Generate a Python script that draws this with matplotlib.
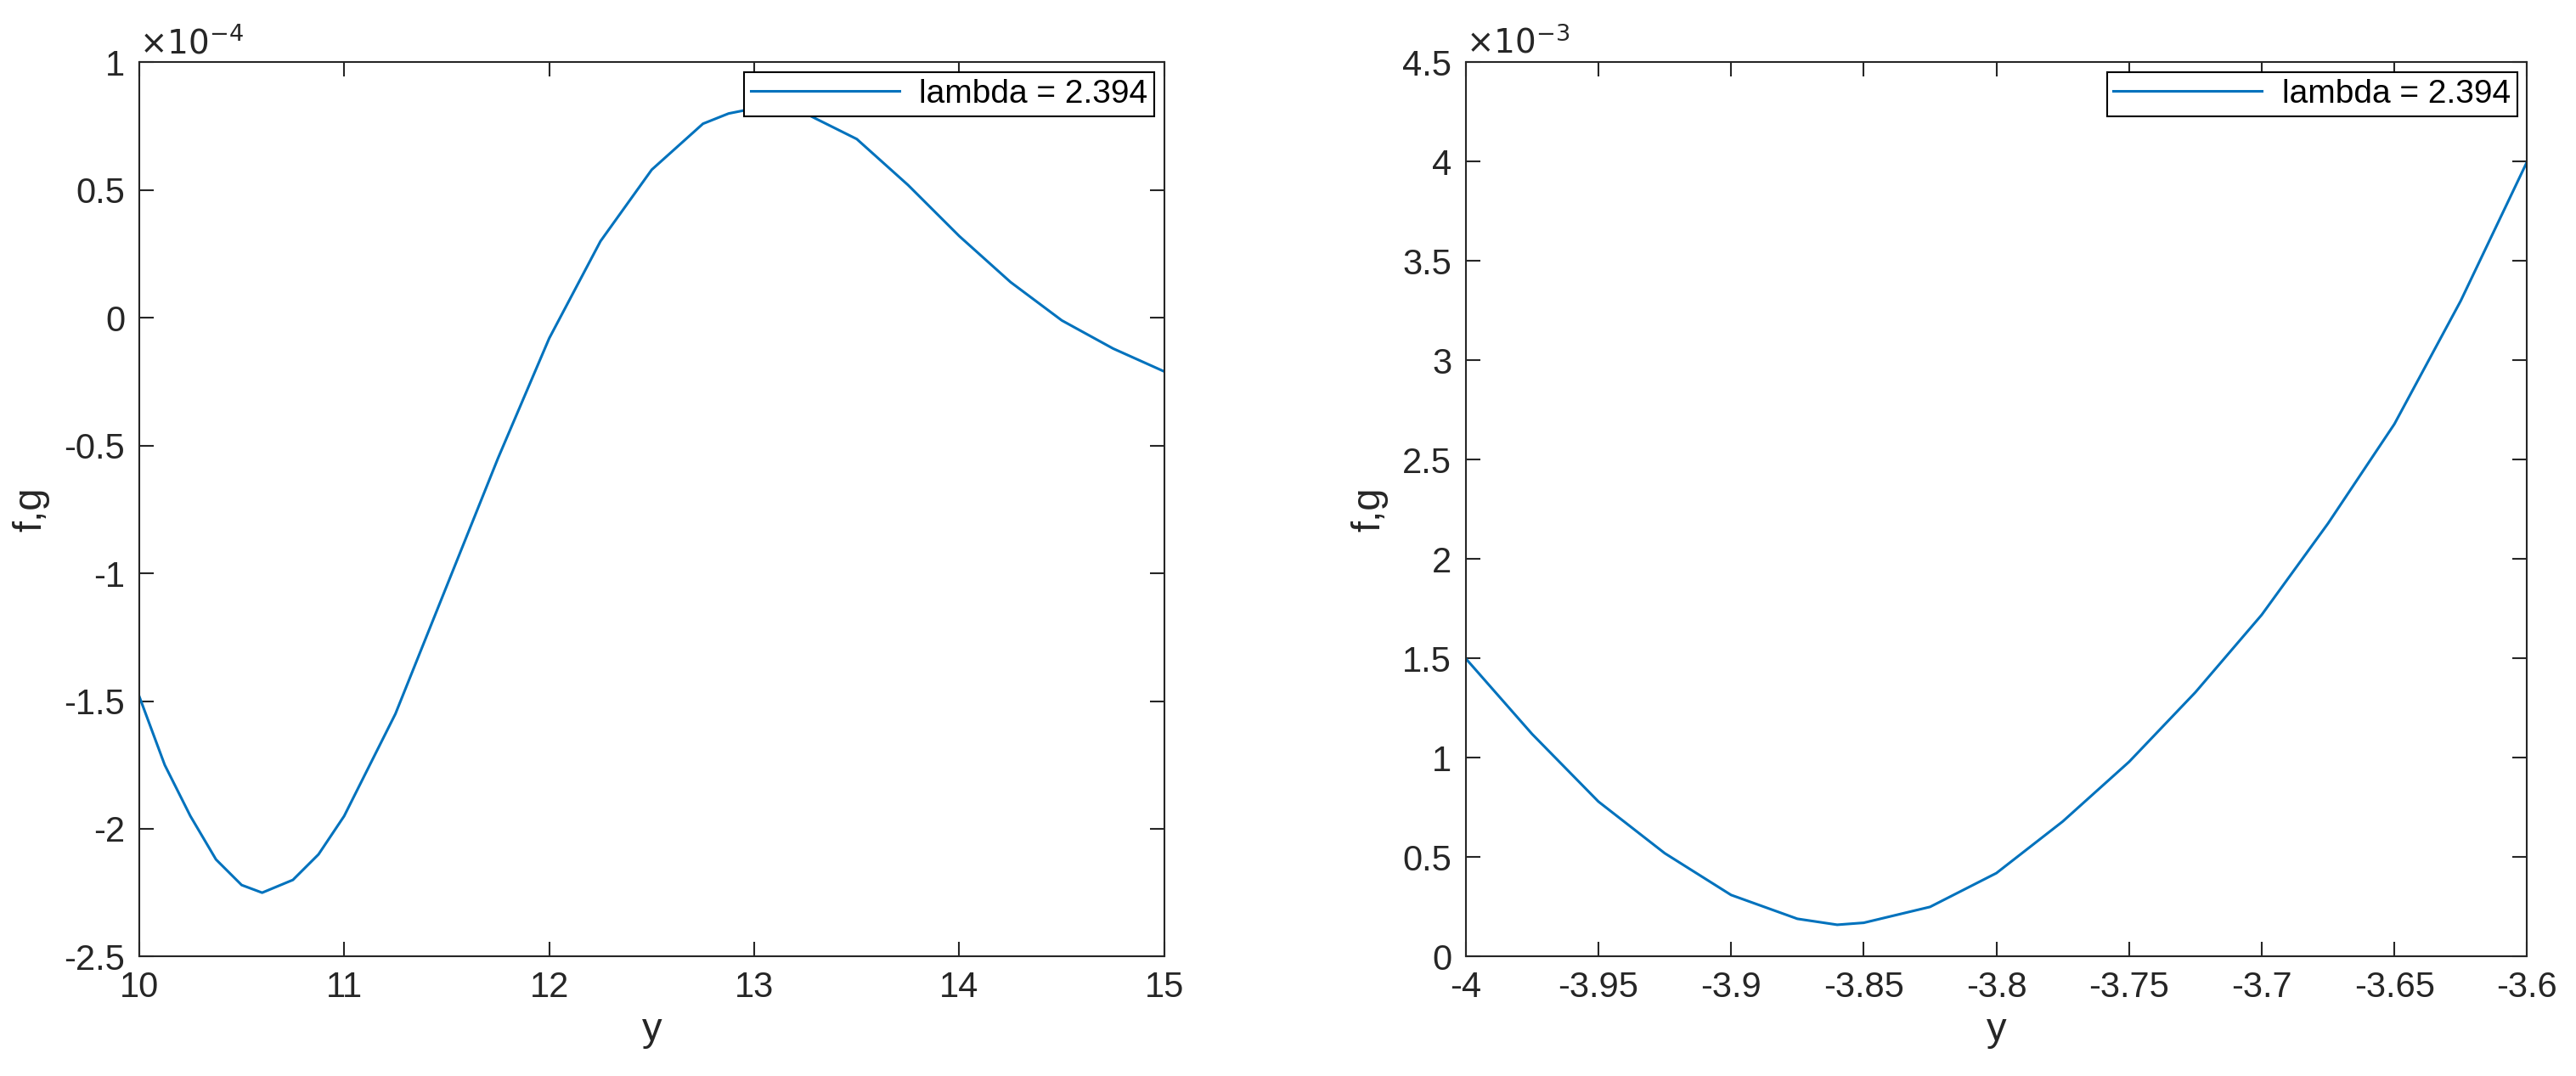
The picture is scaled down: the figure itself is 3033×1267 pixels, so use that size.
import numpy as np
import matplotlib
matplotlib.use("Agg")
from matplotlib import pyplot as plt

plt.rcParams['font.family'] = ['Liberation Sans', 'DejaVu Sans']

# left panel (values in units of 1e-4)
y_left = [10, 10.125, 10.25, 10.375, 10.5, 10.6, 10.75, 10.875, 11, 11.25, 11.5, 11.75, 12,
          12.25, 12.5, 12.75, 12.875, 13, 13.125, 13.25, 13.5, 13.75, 14, 14.25, 14.5, 14.75, 15]
f_left = [-1.48, -1.75, -1.95, -2.12, -2.22, -2.25, -2.2, -2.1, -1.95, -1.55, -1.05, -0.55, -0.08,
          0.3, 0.58, 0.76, 0.8, 0.82, 0.82, 0.8, 0.7, 0.52, 0.32, 0.14, -0.01, -0.12, -0.21]

# right panel (values in units of 1e-3)
y_right = [-4, -3.975, -3.95, -3.925, -3.9, -3.875, -3.86, -3.85, -3.825, -3.8, -3.775,
           -3.75, -3.725, -3.7, -3.675, -3.65, -3.625, -3.6]
f_right = [1.5, 1.12, 0.78, 0.52, 0.31, 0.19, 0.16, 0.17, 0.25, 0.42, 0.68,
           0.98, 1.33, 1.72, 2.18, 2.68, 3.3, 4.0]

line_color = '#0072BD'
axis_color = '#262626'
label = 'lambda = 2.394'


def style(ax):
    ax.tick_params(direction='in', top=True, right=True, labelsize=30, colors=axis_color,
                   length=12, width=1.5, pad=12)
    for s in ax.spines.values():
        s.set_color(axis_color)
        s.set_linewidth(1.5)
    ax.set_xlabel('y', fontsize=34, color=axis_color, labelpad=6)
    ax.set_ylabel('f,g', fontsize=34, color=axis_color, labelpad=12)
    leg = ax.legend(loc='upper right', fontsize=28, fancybox=False, framealpha=1,
                    borderaxespad=0.3, handlelength=4.5, borderpad=0.2, handletextpad=0.6)
    leg.get_frame().set_edgecolor('black')
    leg.get_frame().set_linewidth(1.5)


fig = plt.figure(figsize=(30.33, 12.67), dpi=100)

ax1 = fig.add_axes([0.054, 0.111, 0.398, 0.831])
ax1.plot(y_left, np.array(f_left) * 1e-4, color=line_color, lw=2.2, label=label)
ax1.set_xlim(10, 15)
ax1.set_ylim(-2.5e-4, 1e-4)
ax1.set_yticks(np.arange(-2.5, 1.01, 0.5) * 1e-4)
ax1.set_yticklabels(['-2.5', '-2', '-1.5', '-1', '-0.5', '0', '0.5', '1'])
style(ax1)
ax1.text(0.0, 1.003, r'$\times10^{-4}$', transform=ax1.transAxes, fontsize=28, color=axis_color, va='bottom')

ax2 = fig.add_axes([0.569, 0.111, 0.412, 0.831])
ax2.plot(y_right, np.array(f_right) * 1e-3, color=line_color, lw=2.2, label=label)
ax2.set_xlim(-4, -3.6)
ax2.set_ylim(0, 4.5e-3)
ax2.set_xticks([-4, -3.95, -3.9, -3.85, -3.8, -3.75, -3.7, -3.65, -3.6])
ax2.set_xticklabels(['-4', '-3.95', '-3.9', '-3.85', '-3.8', '-3.75', '-3.7', '-3.65', '-3.6'])
ax2.set_yticks(np.arange(0, 4.51, 0.5) * 1e-3)
ax2.set_yticklabels(['0', '0.5', '1', '1.5', '2', '2.5', '3', '3.5', '4', '4.5'])
style(ax2)
ax2.text(0.0, 1.003, r'$\times10^{-3}$', transform=ax2.transAxes, fontsize=28, color=axis_color, va='bottom')

fig.savefig('out.png')
